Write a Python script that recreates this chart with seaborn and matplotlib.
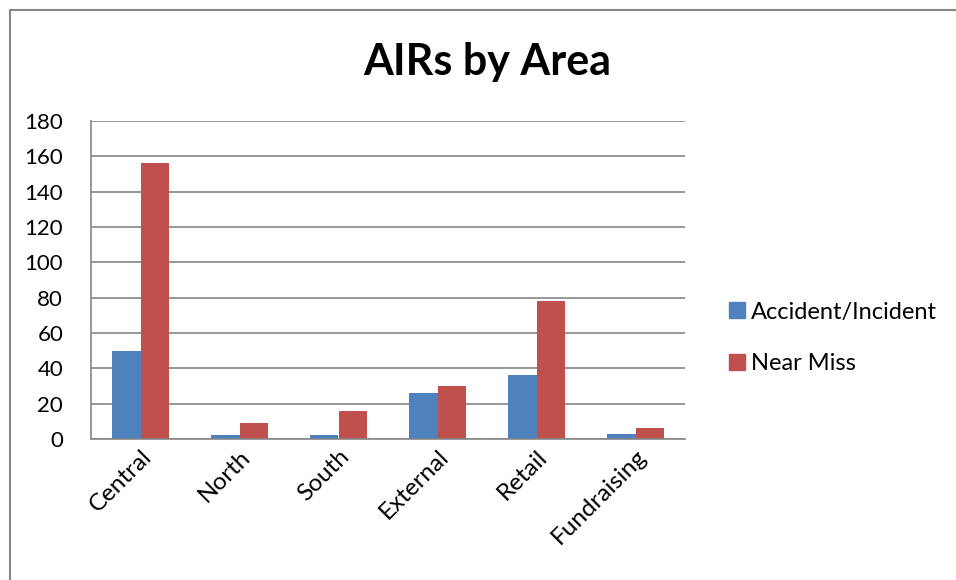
import pandas as pd
import matplotlib.pyplot as plt
import seaborn as sns
from matplotlib.lines import Line2D

# data
areas = ['Central', 'North', 'South', 'External', 'Retail', 'Fundraising']
accident_incident = [50, 2, 2, 26, 36, 3]
near_miss = [156, 9, 16, 30, 78, 6]

df = pd.DataFrame({
    'Area': areas * 2,
    'Type': ['Accident/Incident'] * len(areas) + ['Near Miss'] * len(areas),
    'Count': accident_incident + near_miss,
})

sns.set_style('white')
plt.rcParams['font.family'] = ['Lato', 'DejaVu Sans']
plt.rcParams['text.color'] = 'black'
plt.rcParams['xtick.color'] = 'black'
plt.rcParams['ytick.color'] = 'black'

fig = plt.figure(figsize=(9.56, 5.8), dpi=100)
ax = fig.add_axes([91 / 956, 1 - 439 / 580, 594 / 956, 318 / 580])

sns.barplot(data=df, x='Area', y='Count', hue='Type',
            palette=['#4F81BD', '#C0504D'], width=0.58,
            saturation=1, linewidth=0, ax=ax)

ax.set_ylim(0, 180)
ax.set_yticks(range(0, 181, 20))
ax.yaxis.grid(True, color='#868686', linewidth=1.2)
ax.set_axisbelow(True)
ax.set_xlabel('')
ax.set_ylabel('')
for side in ['top', 'right']:
    ax.spines[side].set_visible(False)
for side in ['left', 'bottom']:
    ax.spines[side].set_color('#868686')
    ax.spines[side].set_linewidth(1.2)
ax.tick_params(axis='y', labelsize=16, length=0, pad=20)
ax.tick_params(axis='x', labelsize=17.5, length=0, pad=5)
plt.setp(ax.get_xticklabels(), rotation=45, ha='right', rotation_mode='anchor')

ax.get_legend().remove()
handles = [Line2D([], [], marker='s', linestyle='', markersize=11, color=c)
           for c in ['#4F81BD', '#C0504D']]
fig.legend(handles, ['Accident/Incident', 'Near Miss'], loc='center left',
           bbox_to_anchor=(704 / 956, 1 - 338 / 580), frameon=False,
           fontsize=17, labelspacing=1.3, handletextpad=0.1, handlelength=1.0)

fig.text(487 / 956, 1 - 62 / 580, 'AIRs by Area', ha='center', va='center',
         fontsize=31, fontweight='bold')

# chart border
fig.add_artist(Line2D([10 / 956, 1], [1 - 10 / 580, 1 - 10 / 580], color='#868686', linewidth=1.5))
fig.add_artist(Line2D([10 / 956, 10 / 956], [0, 1 - 10 / 580], color='#868686', linewidth=1.5))

fig.savefig('out.png', dpi=100)
